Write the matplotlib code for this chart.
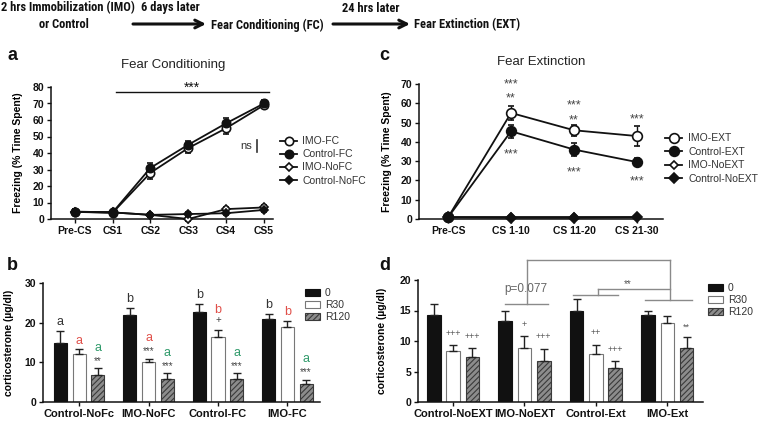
import numpy as np
import matplotlib
matplotlib.use("Agg")
import matplotlib.pyplot as plt
from matplotlib import font_manager
from matplotlib.lines import Line2D

# ---- data -------------------------------------------------------------
phases_fc = ["Pre-CS", "CS1", "CS2", "CS3", "CS4", "CS5"]
imo_fc = [4.3, 3.8, 28, 43, 55, 69]
imo_fc_err = [2, 1, 3.5, 3, 3.5, 2]
ctrl_fc = [4.5, 4.0, 31, 45, 58, 70]
ctrl_fc_err = [1.5, 1, 3, 2.5, 3, 2]
imo_nofc = [4.3, 4.0, 2.5, 0.0, 6.0, 7.0]
imo_nofc_err = [1, 1, 1, 1, 1.2, 1.5]
ctrl_nofc = [4.3, 4.0, 2.5, 3.0, 3.5, 5.5]
ctrl_nofc_err = [1, 1, 1, 1, 1, 1]

phases_ext = ["Pre-CS", "CS 1-10", "CS 11-20", "CS 21-30"]
imo_ext = [0.8, 55, 46, 43]
imo_ext_err = [0.5, 3.5, 3, 5]
ctrl_ext = [0.8, 45.5, 36, 29.5]
ctrl_ext_err = [0.5, 3.5, 3.5, 2]
imo_noext = [0.8, 0.8, 0.8, 0.8]
ctrl_noext = [0.8, 0.6, 0.6, 0.8]

groups_b = ["Control-NoFc", "IMO-NoFC", "Control-FC", "IMO-FC"]
cort_b = {"0": [15.0, 22.0, 22.7, 21.0],
          "R30": [12.0, 10.1, 16.4, 18.8],
          "R120": [6.7, 5.9, 5.9, 4.5]}
cort_b_err = {"0": [2.9, 1.8, 2.1, 1.2],
              "R30": [1.3, 0.8, 1.7, 1.7],
              "R120": [1.8, 1.3, 1.3, 1.1]}
letters_b = [["a", "a", "a"], ["b", "a", "a"], ["b", "b", "a"], ["b", "b", "a"]]
marks_b = [["", "", "**"], ["", "***", "***"], ["", "+", "***"], ["", "", "***"]]

groups_d = ["Control-NoEXT", "IMO-NoEXT", "Control-Ext", "IMO-Ext"]
cort_d = {"0": [14.2, 13.3, 14.9, 14.2],
          "R30": [8.4, 8.8, 7.9, 12.9],
          "R120": [7.3, 6.8, 5.5, 8.8]}
cort_d_err = {"0": [1.9, 1.7, 2.0, 0.8],
              "R30": [0.9, 2.0, 1.5, 1.2],
              "R120": [1.5, 1.9, 1.2, 1.9]}
marks_d = [["", "+++", "+++"], ["", "+", "+++"], ["", "++", "+++"], ["", "", "**"]]

# ---- fonts ------------------------------------------------------------
names = {f.name for f in font_manager.fontManager.ttflist}
plt.rcParams["font.family"] = ["Liberation Sans", "DejaVu Sans"]
plt.rcParams["hatch.color"] = "#3a3a3a"
plt.rcParams["hatch.linewidth"] = 0.8
head_font, head_size = ["Liberation Sans", "DejaVu Sans"], 7.4
for fam, size in [("Liberation Sans Narrow", 9), ("Roboto Condensed", 9),
                  ("Roboto", 7.8)]:
    if fam in names:
        head_font, head_size = [fam, "DejaVu Sans"], size
        break

W, H = 758, 424


def box(l, t, r, b):
    return [l / W, 1 - b / H, (r - l) / W, (b - t) / H]


fig = plt.figure(figsize=(W / 100, H / 100), dpi=100)
ax_a = fig.add_axes(box(51, 87, 273, 219))
ax_c = fig.add_axes(box(419, 84, 663, 219))
ax_b = fig.add_axes(box(43, 283, 320, 402))
ax_d = fig.add_axes(box(418, 280, 703, 402))


def style(ax):
    for s in ["top", "right"]:
        ax.spines[s].set_visible(False)
    for s in ["left", "bottom"]:
        ax.spines[s].set_linewidth(1.1)
        ax.spines[s].set_color("#111111")
    ax.tick_params(direction="out", length=3, width=1, labelsize=7.5, pad=2,
                   colors="#111111")


def bold_ticks(ax):
    for lab in ax.get_xticklabels() + ax.get_yticklabels():
        lab.set_fontweight("bold")


def series(ax, x, y, e, face, marker, ms):
    cont = ax.errorbar(x, y, yerr=e, color="#111111", lw=1.3, marker=marker,
                       ms=ms, mfc=face, mec="#111111", mew=1.2, capsize=2.5,
                       elinewidth=1, zorder=3)
    for art in cont.get_children():
        art.set_clip_on(False)
    return Line2D([], [], color="#111111", lw=1.3, marker=marker, ms=ms,
                  mfc=face, mec="#111111", mew=1.2)


def note(ax, x, y, s, dy_px, fs, color, glyph_mid):
    # y is in data coords, dy_px shifts glyph centre up by that many pixels
    ax.annotate(s, (x, y), xytext=(0, dy_px * 0.72 - glyph_mid * fs),
                textcoords="offset points", ha="center", va="baseline",
                fontsize=fs, color=color, annotation_clip=False)


# ---- panel a ---------------------------------------------------------
xa = np.arange(len(phases_fc))
h_a = [series(ax_a, xa, imo_fc, imo_fc_err, "white", "o", 6),
       series(ax_a, xa, ctrl_fc, ctrl_fc_err, "#111111", "o", 6),
       series(ax_a, xa, imo_nofc, imo_nofc_err, "white", "D", 4.5),
       series(ax_a, xa, ctrl_nofc, ctrl_nofc_err, "#111111", "D", 4.5)]
style(ax_a)
ax_a.set_xlim(-0.63, 5.24)
ax_a.set_ylim(0, 80)
ax_a.set_yticks(np.arange(0, 81, 10))
ax_a.set_xticks(xa)
ax_a.set_xticklabels(phases_fc)
bold_ticks(ax_a)
ax_a.set_ylabel("Freezing (% Time Spent)", fontsize=7.5, fontweight="bold")
ax_a.yaxis.set_label_coords(-0.125, 0.5)
ax_a.plot([1.08, 5.13], [76.8, 76.8], color="#111111", lw=1, clip_on=False)
note(ax_a, 3.1, 76.8, "***", 9, 10, "#111111", 0.58)
ax_a.text(4.53, 44, "ns", ha="center", va="center", fontsize=8, color="#333333")
ax_a.plot([4.82, 4.82], [40.6, 47.9], color="#333333", lw=1.2)
ax_a.legend(h_a, ["IMO-FC", "Control-FC", "IMO-NoFC", "Control-NoFC"],
            loc="upper left", bbox_to_anchor=(275 / W, 1 - 131 / H),
            bbox_transform=fig.transFigure, frameon=False, fontsize=7.5,
            handlelength=1.6, handletextpad=0.5, labelspacing=0.3,
            borderpad=0, labelcolor="#333333")
ax_a.set_title("Fear Conditioning", fontsize=9.5, color="#222222", pad=14,
               x=0.55)

# ---- panel c ---------------------------------------------------------
xc = np.arange(len(phases_ext))
h_c = [series(ax_c, xc, imo_ext, imo_ext_err, "white", "o", 7),
       series(ax_c, xc, ctrl_ext, ctrl_ext_err, "#111111", "o", 7),
       series(ax_c, xc, imo_noext, None, "white", "D", 4.5),
       series(ax_c, xc, ctrl_noext, None, "#111111", "D", 5)]
style(ax_c)
ax_c.set_xlim(-0.46, 3.41)
ax_c.set_ylim(0, 70)
ax_c.set_yticks(np.arange(0, 71, 10))
ax_c.set_xticks(xc)
ax_c.set_xticklabels(phases_ext)
bold_ticks(ax_c)
ax_c.set_ylabel("Freezing (% Time Spent)", fontsize=7.5, fontweight="bold")
ax_c.yaxis.set_label_coords(-0.11, 0.5)
for xx, yy, s in [(1, 72, "***"), (1, 64.8, "**"), (1, 35.8, "***"),
                  (2, 61.1, "***"), (2, 53.4, "**"), (2, 26.4, "***"),
                  (3, 53.9, "***"), (3, 21.8, "***")]:
    note(ax_c, xx, yy, s, 0, 9, "#444444", 0.58)
ax_c.legend(h_c, ["IMO-EXT", "Control-EXT", "IMO-NoEXT", "Control-NoEXT"],
            loc="upper left", bbox_to_anchor=(660 / W, 1 - 128 / H),
            bbox_transform=fig.transFigure, frameon=False, fontsize=7.5,
            handlelength=1.6, handletextpad=0.6, labelspacing=0.35,
            borderpad=0, labelcolor="#333333")
ax_c.set_title("Fear Extinction", fontsize=9.5, color="#222222", pad=14,
               x=0.5)

# ---- bar panels ------------------------------------------------------
bar_style = {"0": dict(color="#111111", edgecolor="#111111"),
             "R30": dict(color="white", edgecolor="#777777"),
             "R120": dict(color="#8c8c8c", edgecolor="#3a3a3a",
                          hatch="//////")}
letter_colors = ["#333333", "#e0504a", "#2f9a6a"]


def bars(ax, groups, vals, errs, ymax, width=0.19, step=0.27):
    x = np.arange(len(groups))
    for k, key in enumerate(["0", "R30", "R120"]):
        pos = x + (k - 1) * step
        ax.bar(pos, vals[key], width, label=key, lw=0.8, zorder=2,
               **bar_style[key])
        ax.errorbar(pos, vals[key], yerr=[np.zeros(len(groups)), errs[key]],
                    fmt="none", ecolor="#222222", elinewidth=1, capsize=3,
                    capthick=1, zorder=3)
    style(ax)
    ax.set_ylim(0, ymax)
    ax.set_xticks(x)
    ax.set_xticklabels(groups, fontsize=8)
    ax.set_ylabel("corticosterone (\u00b5g/dl)", fontsize=7.5, fontweight="bold")
    ax.legend(loc="upper left", frameon=False, fontsize=7.5, handlelength=1.4,
              handleheight=0.7, handletextpad=0.5, labelspacing=0.2,
              borderpad=0, labelcolor="#333333")
    return x


xb = bars(ax_b, groups_b, cort_b, cort_b_err, 30)
ax_b.set_xlim(-0.52, 3.47)
ax_b.set_yticks([0, 10, 20, 30])
bold_ticks(ax_b)
ax_b.yaxis.set_label_coords(-0.105, 0.5)
ax_b.get_legend().set_bbox_to_anchor((300 / W, 1 - 283 / H), fig.transFigure)
for g in range(len(groups_b)):
    for k, key in enumerate(["0", "R30", "R120"]):
        top = cort_b[key][g] + cort_b_err[key][g]
        xx = xb[g] + (k - 1) * 0.27
        mk = marks_b[g][k]
        if mk:
            note(ax_b, xx, top, mk, 10, 7, "#444444",
                 0.58 if "*" in mk else 0.33)
            note(ax_b, xx, top, letters_b[g][k], 21, 9, letter_colors[k], 0.28)
        else:
            note(ax_b, xx, top, letters_b[g][k], 9, 9, letter_colors[k], 0.28)

xd = bars(ax_d, groups_d, cort_d, cort_d_err, 20)
ax_d.set_xlim(-0.49, 3.5)
ax_d.set_yticks([0, 5, 10, 15, 20])
bold_ticks(ax_d)
ax_d.yaxis.set_label_coords(-0.109, 0.5)
ax_d.get_legend().set_bbox_to_anchor((703 / W, 1 - 278 / H), fig.transFigure)
for g in range(len(groups_d)):
    for k, key in enumerate(["0", "R30", "R120"]):
        mk = marks_d[g][k]
        if mk:
            top = cort_d[key][g] + cort_d_err[key][g]
            note(ax_d, xd[g] + (k - 1) * 0.27, top, mk, 12.5, 6.5, "#555555",
                 0.58 if "*" in mk else 0.33)

gray = "#8a8a8a"
brackets = [([1.04, 3.04], [23.2, 23.2]), ([1.04, 1.04], [23.2, 16.1]),
            ([0.73, 1.33], [16.1, 16.1]), ([3.04, 3.04], [23.2, 16.8]),
            ([2.69, 3.35], [16.8, 16.8]), ([1.68, 2.31], [17.6, 17.6]),
            ([2.03, 2.03], [17.6, 18.5]), ([2.03, 3.04], [18.5, 18.5])]
for bx, by in brackets:
    ax_d.plot(bx, by, color=gray, lw=1, clip_on=False, zorder=1)
ax_d.text(1.02, 18.6, "p=0.077", ha="center", va="center", fontsize=8.5,
          color="#666666")
note(ax_d, 2.45, 19.7, "**", 0, 7, "#555555", 0.58)

# ---- header and panel letters ----------------------------------------
ov = fig.add_axes([0, 0, 1, 1])
ov.set_xlim(0, W)
ov.set_ylim(H, 0)
ov.axis("off")
hd = dict(va="center", fontsize=head_size, fontweight="bold",
          family=head_font, color="#111111")
ov.text(1, 8, "2 hrs Immobilization (IMO)", ha="left", **hd)
ov.text(64, 25, "or Control", ha="center", **hd)
ov.text(170, 8, "6 days later", ha="center", **hd)
ov.text(371, 8, "24 hrs later", ha="center", **hd)
ov.text(267, 25, "Fear Conditioning (FC)", ha="center", **hd)
ov.text(467, 25, "Fear Extinction (EXT)", ha="center", **hd)
for x0, x1 in [(133, 206), (333, 410)]:
    ov.annotate("", xy=(x1, 24), xytext=(x0, 24),
                arrowprops=dict(arrowstyle="->", lw=2.2, color="#111111",
                                mutation_scale=14, shrinkA=0, shrinkB=0))
for xx, yy, s in [(12, 56, "a"), (384, 55, "c"), (12, 265, "b"), (385, 265, "d")]:
    ov.text(xx, yy, s, ha="center", va="center", fontsize=13, fontweight="bold",
            color="#111111")

fig.savefig("out.png", dpi=100)
